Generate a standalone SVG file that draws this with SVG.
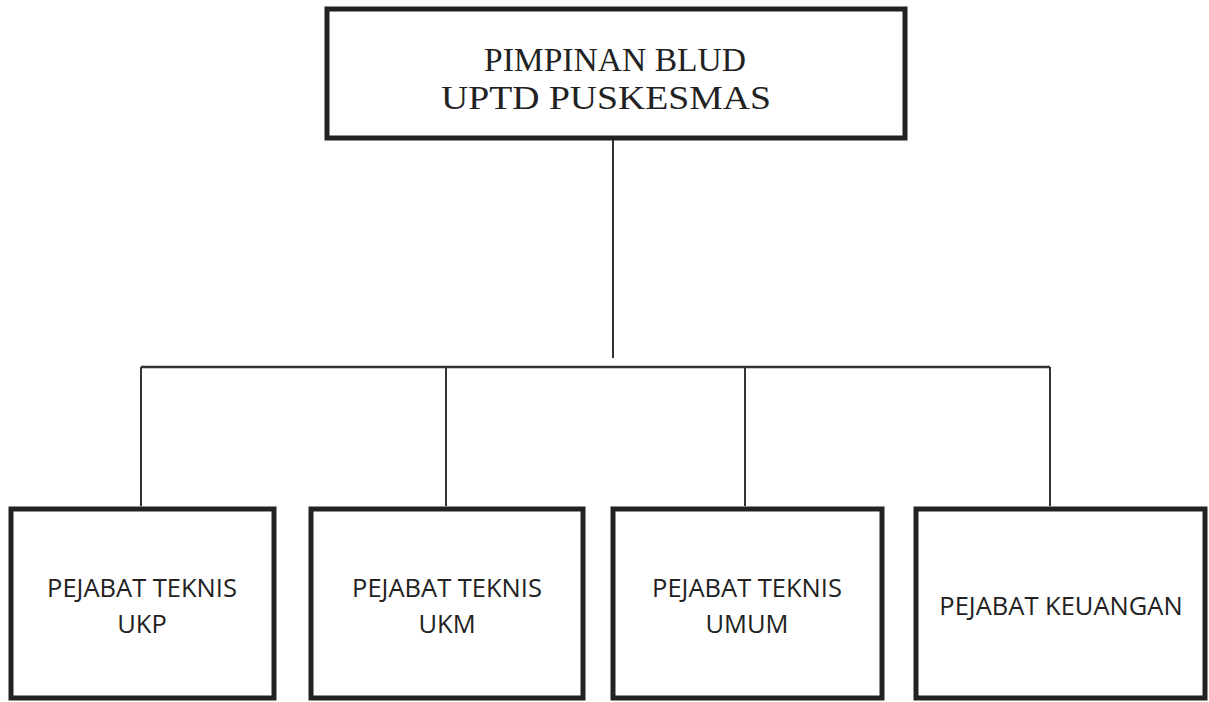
<svg xmlns="http://www.w3.org/2000/svg" width="1209" height="702" viewBox="0 0 1209 702">
<style>
.box{fill:#fff;stroke:#222;stroke-width:5}
.ln{stroke:#333;stroke-width:2;fill:none}
.t1{font-family:"Liberation Serif","DejaVu Serif",serif;font-size:33px;fill:#222;text-anchor:middle}
.t2{font-family:"Open Sans","Liberation Sans",sans-serif;font-size:25.5px;fill:#222;text-anchor:middle}
</style>
<rect width="1209" height="702" fill="#fff"/>
<g id="connectors">
<line class="ln" x1="613" y1="140" x2="613" y2="358"/>
<line class="ln" x1="141" y1="367" x2="1050" y2="367" style="stroke-width:2.5"/>
<line class="ln" x1="141" y1="367" x2="141" y2="506"/>
<line class="ln" x1="446" y1="367" x2="446" y2="506"/>
<line class="ln" x1="745" y1="367" x2="745" y2="506"/>
<line class="ln" x1="1050" y1="367" x2="1050" y2="506"/>
</g>
<g id="pimpinan">
<rect class="box" x="327" y="9" width="578" height="129"/>
<text class="t1" x="615" y="71" textLength="262" lengthAdjust="spacingAndGlyphs">PIMPINAN BLUD</text>
<text class="t1" x="606" y="109" textLength="330" lengthAdjust="spacingAndGlyphs">UPTD PUSKESMAS</text>
</g>
<g id="ukp">
<rect class="box" x="11" y="509" width="263" height="189"/>
<text class="t2" x="142" y="597">PEJABAT TEKNIS</text>
<text class="t2" x="142" y="633">UKP</text>
</g>
<g id="ukm">
<rect class="box" x="311" y="509" width="272" height="189"/>
<text class="t2" x="447" y="597">PEJABAT TEKNIS</text>
<text class="t2" x="447" y="633">UKM</text>
</g>
<g id="umum">
<rect class="box" x="613" y="509" width="269" height="189"/>
<text class="t2" x="747" y="597">PEJABAT TEKNIS</text>
<text class="t2" x="747" y="633">UMUM</text>
</g>
<g id="keuangan">
<rect class="box" x="916" y="509" width="289" height="189"/>
<text class="t2" x="1061" y="615">PEJABAT KEUANGAN</text>
</g>
</svg>
